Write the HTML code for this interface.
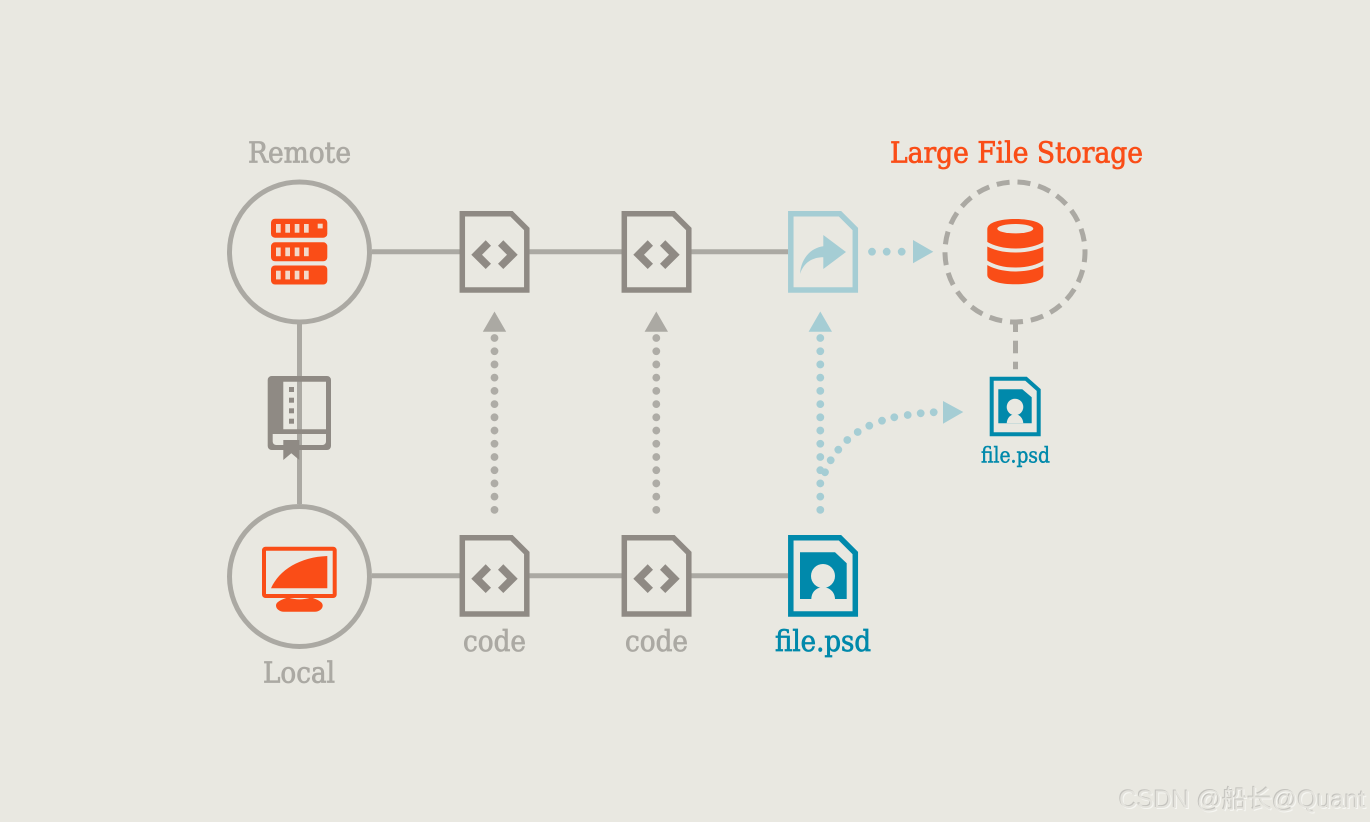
<!DOCTYPE html>
<html lang="en">
<head>
<meta charset="utf-8">
<title>Large File Storage diagram</title>
<style>
html,body{margin:0;padding:0;background:#e9e8e1;width:1370px;height:822px;overflow:hidden}
svg{position:absolute;left:0;top:0}
.t{font-family:"DejaVu Serif","Liberation Serif",serif;font-size:29px;stroke-width:.75px;paint-order:stroke}
.g{fill:#aba9a3;stroke:#aba9a3}
.o{fill:#fa4d17;stroke:#fa4d17}
.b{fill:#0089ab;stroke:#0089ab}
#wm{position:absolute;left:1119px;top:785px;font-family:"Liberation Sans","Noto Sans CJK SC",sans-serif;font-size:25px;line-height:30px;color:#e4e3dd;white-space:nowrap;text-shadow:-1px -1px 0 #c4c3be,1px 1px 0 #f6f6f2}
</style>
</head>
<body>
<svg width="1370" height="822" viewBox="0 0 1370 822" xmlns="http://www.w3.org/2000/svg">
<defs>
  <g id="chev" fill="#8f8a84">
    <path d="M471.3 254.7 485.7 240.3 491 245.7 482 254.7 491 263.7 485.7 269Z"/>
    <path d="M517.7 254.7 503.3 240.3 498 245.7 507 254.7 498 263.7 503.3 269Z"/>
  </g>
  <path id="doc" d="M462.3 213.8H511.5L526.8 229V290H462.3Z" fill="#e9e8e1" stroke-width="5.5"/>
</defs>

<!-- connectors -->
<g stroke="#aba9a3" stroke-width="5" fill="none">
  <path d="M372 251.7H788"/>
  <path d="M372 575.7H788"/>
  <path d="M299.5 324V504"/>
</g>

<!-- circles -->
<circle cx="299.5" cy="252" r="70" fill="#e9e8e1" stroke="#aba9a3" stroke-width="5"/>
<circle cx="299.5" cy="576.5" r="70" fill="#e9e8e1" stroke="#aba9a3" stroke-width="5"/>
<circle cx="1015" cy="252" r="70" fill="none" stroke="#aba9a3" stroke-width="5" stroke-dasharray="13 7.94" stroke-dashoffset="2.8"/>
<g fill="#aba9a3">
  <rect x="1013" y="320" width="5" height="12"/>
  <rect x="1013" y="340.7" width="5" height="12.6"/>
  <rect x="1013" y="361.7" width="5" height="7.5"/>
</g>

<!-- server -->
<g fill="#fa4d17">
  <rect x="271" y="218.7" width="56.3" height="19" rx="4"/>
  <rect x="271" y="242.3" width="56.3" height="19" rx="4"/>
  <rect x="271" y="265.5" width="56.3" height="19" rx="4"/>
</g>
<g fill="#f3d9c9">
  <rect x="276" y="224" width="4.7" height="8.7"/><rect x="285.3" y="224" width="4.7" height="8.7"/><rect x="294.7" y="224" width="4.7" height="8.7"/><rect x="304" y="224" width="4.7" height="8.7"/><rect x="317.7" y="223.7" width="5" height="4.7"/>
  <rect x="276" y="247.5" width="4.7" height="8.7"/><rect x="285.3" y="247.5" width="4.7" height="8.7"/><rect x="294.7" y="247.5" width="4.7" height="8.7"/><rect x="304" y="247.5" width="4.7" height="8.7"/>
  <rect x="276" y="270.7" width="4.7" height="8.7"/><rect x="285.3" y="270.7" width="4.7" height="8.7"/><rect x="294.7" y="270.7" width="4.7" height="8.7"/><rect x="304" y="270.7" width="4.7" height="8.7"/>
</g>

<!-- monitor -->
<rect x="264" y="548.7" width="70.7" height="47.3" rx="1.5" fill="none" stroke="#fa4d17" stroke-width="4"/>
<path d="M327.3 556V588.3H271C279 570 300 557 327.3 556Z" fill="#fa4d17"/>
<path d="M288 597.5C296 600 303 600 311 597.5C318 599.5 322.7 602 322.7 605.5C322.7 609 319 611.7 315 611.7H283.7C279.7 611.7 276 609 276 605.5C276 602 281 599.5 288 597.5Z" fill="#fa4d17"/>

<!-- book -->
<path fill-rule="evenodd" fill="#8f8a84" d="M271.7 376H327a4 4 0 0 1 4 4V446a4 4 0 0 1-4 4H271.7a4 4 0 0 1-4-4V380a4 4 0 0 1 4-4ZM283.3 381.7V429.3H326V381.7ZM272.7 434V441.5a3.5 3.5 0 0 0 3.5 3.5H322.5a3.5 3.5 0 0 0 3.5-3.5V434Z"/>
<path fill="#8f8a84" d="M283.3 440H299.3V460L291.3 453.3 283.3 460Z"/>
<g fill="#8f8a84">
  <rect x="289" y="387" width="5" height="5"/><rect x="289" y="397.7" width="5" height="5"/><rect x="289" y="408.3" width="5" height="5"/><rect x="289" y="418.7" width="5" height="5"/>
</g>

<!-- code docs -->
<use href="#doc" stroke="#8f8a84"/><use href="#chev"/>
<g transform="translate(162 0)"><use href="#doc" stroke="#8f8a84"/><use href="#chev"/></g>
<g transform="translate(0 324)"><use href="#doc" stroke="#8f8a84"/><use href="#chev"/></g>
<g transform="translate(162 324)"><use href="#doc" stroke="#8f8a84"/><use href="#chev"/></g>

<!-- teal doc -->
<g transform="translate(328.5 0)"><use href="#doc" stroke="#a5cdd4"/></g>
<path fill="#a5cdd4" d="M800 274C801 258 811 248 823.3 246.3V235L846 252 823.3 269V257.3C813 257.3 804 262 800 274Z"/>

<!-- blue doc -->
<g transform="translate(328.5 324)"><use href="#doc" stroke="#0089ab"/></g>
<path fill="#0089ab" d="M800 552.3H835L846.7 563.3V599H800Z"/>
<circle cx="823" cy="576" r="12" fill="#e9e8e1"/>
<path fill="#e9e8e1" d="M811.3 599C811.5 592 816.5 587.3 823 587.3S834.8 592 835 599Z"/>

<!-- small doc -->
<path d="M991.7 378.7H1026L1038.7 390V434.3H991.7Z" fill="#e9e8e1" stroke="#0089ab" stroke-width="4"/>
<path fill="#0089ab" d="M998.3 389.3H1022.3L1031.7 397.3V423.3H998.3Z"/>
<circle cx="1015" cy="407" r="8.3" fill="#e9e8e1"/>
<path fill="#e9e8e1" d="M1006.7 423.3C1007 418 1010.5 414.3 1015 414.3S1023 418 1023.3 423.3Z"/>

<!-- database -->
<path fill="#fa4d17" d="M987.3 229C987.3 222.5 1000 219 1015.3 219S1043.3 222.5 1043.3 229V275C1043.3 281 1030 284.3 1015.3 284.3S987.3 281 987.3 275Z"/>
<ellipse cx="1015.3" cy="228.7" rx="18" ry="4.7" fill="#e9e8e1"/>
<g fill="none" stroke="#e9e8e1" stroke-width="4">
  <path d="M985 243C995 249 1005 250.5 1015.3 250.5S1036 249 1046 243"/>
  <path d="M985 261.5C995 268 1005 269.5 1015.3 269.5S1036 268 1046 261.5"/>
</g>

<!-- grey dotted arrows -->
<g fill="none" stroke="#aeaca6" stroke-width="7.8" stroke-linecap="round" stroke-dasharray="0 13.22">
  <path d="M494.5 338V511"/>
  <path d="M656.3 338V511"/>
</g>
<path fill="#aba9a3" d="M494.5 311.5 506.2 331.7H482.8Z"/>
<path fill="#aba9a3" d="M656.3 311.5 668 331.7H644.6Z"/>

<!-- teal dotted arrows -->
<path fill="none" stroke="#a5cdd4" stroke-width="7.8" stroke-linecap="round" stroke-dasharray="0 13.22" d="M820.3 338V511"/>
<path fill="#a5cdd4" d="M820.3 311.5 832 331.7H808.6Z"/>
<g fill="#a5cdd4">
  <circle cx="825" cy="472.3" r="3.9"/><circle cx="830.7" cy="460.3" r="3.9"/><circle cx="838.3" cy="449.7" r="3.9"/><circle cx="847.3" cy="440" r="3.9"/><circle cx="857.7" cy="432" r="3.9"/><circle cx="869.3" cy="425.7" r="3.9"/><circle cx="882" cy="420.7" r="3.9"/><circle cx="894.3" cy="417.3" r="3.9"/><circle cx="907.7" cy="415" r="3.9"/><circle cx="920.7" cy="413.3" r="3.9"/><circle cx="933.7" cy="412.3" r="3.9"/>
  <path d="M943 401 963.3 412 943 423.7Z"/>
  <circle cx="872" cy="251.7" r="3.9"/><circle cx="886.7" cy="251.7" r="3.9"/><circle cx="901.7" cy="251.7" r="3.9"/>
  <path d="M913 240 933.3 251.7 913 263.3Z"/>
</g>

<!-- labels -->
<text class="t g" x="248" y="162.3" textLength="103" lengthAdjust="spacingAndGlyphs">Remote</text>
<text class="t g" x="263" y="682.7" textLength="72" lengthAdjust="spacingAndGlyphs">Local</text>
<text class="t g" x="463" y="651" textLength="63" lengthAdjust="spacingAndGlyphs">code</text>
<text class="t g" x="625" y="651" textLength="63" lengthAdjust="spacingAndGlyphs">code</text>
<text class="t b" x="775" y="651" textLength="96" lengthAdjust="spacingAndGlyphs">file.psd</text>
<text class="t o" x="890" y="162.3" textLength="253" lengthAdjust="spacingAndGlyphs">Large File Storage</text>
<text class="t b" style="font-size:21px;stroke-width:.5px" x="981" y="462.3" textLength="69" lengthAdjust="spacingAndGlyphs">file.psd</text>
</svg>
<div id="wm">CSDN @船长@Quant</div>
</body>
</html>
